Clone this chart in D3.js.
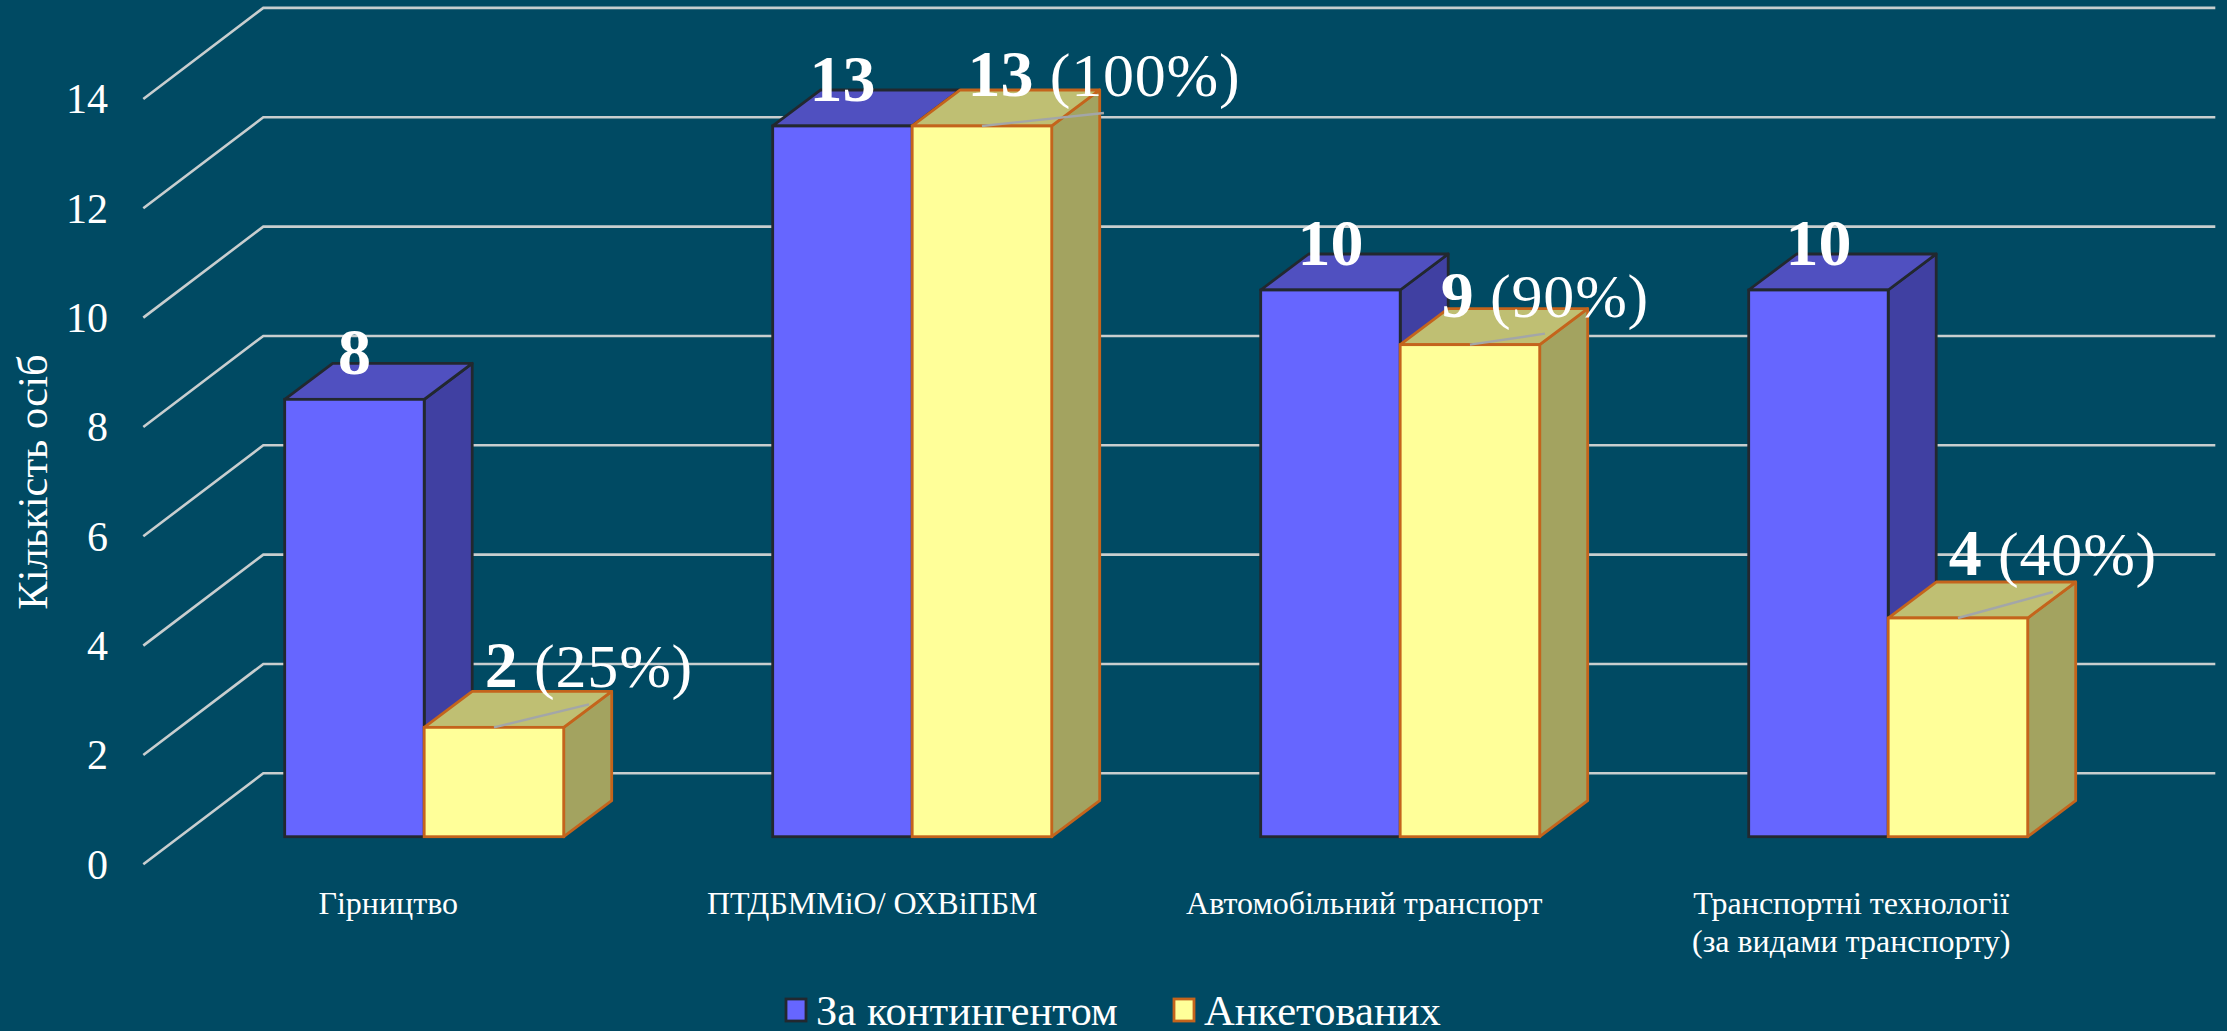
<!DOCTYPE html>
<html><head><meta charset="utf-8">
<script src="https://cdn.jsdelivr.net/npm/d3@7"></script>
<style>
html,body{margin:0;padding:0;background:#004a63;overflow:hidden}
svg{display:block}
text{font-family:"Liberation Serif","Times New Roman",serif;fill:#fff}
</style></head><body>
<svg id="c" width="2227" height="1031"></svg>
<script>
const categories = [["Гірництво"],["ПТДБММіО/ ОХВіПБМ"],["Автомобільний транспорт"],["Транспортні технології","(за видами транспорту)"]];
const contingent = [8,13,10,10];
const surveyed = [2,13,9,4];
const percents = ["25%","100%","90%","40%"];
const seriesNames = ["За контингентом","Анкетованих"];
const yTicks = [0,2,4,6,8,10,12,14];
const axisTitle = "Кількість осіб";
// label anchor offsets from bar's top-front centre (leader line end)
const leaderDx = [95,122,75,95];
const leaderDy = [-23,-13,-11,-26];
const categoryNudge = [0,-4,0,-1];

const W=2227,H=1031;
const svg=d3.select("#c");
svg.append("rect").attr("width",W).attr("height",H).attr("fill","#004a63");

const bar0=836.7, unit=54.67;
const y=d3.scaleLinear().domain([0,14]).range([bar0,bar0-14*unit]);
const x=d3.scaleBand().domain(d3.range(4)).range([179.3,2131.3]).paddingInner(0).paddingOuter(0);
const inner=d3.scaleBand().domain([0,1]).range([105.4,105.4+279]);
const barDepth=[48,-36];
const wallFront=[-36,27.6], wallBack=[84,-63.4]; // relative to the bar plane

const grid="#c8cecf";
const g=svg.append("g");
yTicks.forEach(t=>{
  const yy=y(t), x0=x.range()[0];
  g.append("polyline").attr("fill","none").attr("stroke",grid).attr("stroke-width",2.6)
   .attr("points",[[x0+wallFront[0],yy+wallFront[1]],[x0+wallBack[0],yy+wallBack[1]],[x.range()[1]+wallBack[0],yy+wallBack[1]]].join(" "));
  g.append("text").attr("x",108).attr("y",yy+wallFront[1]+14.5).attr("text-anchor","end").attr("font-size",42).text(t);
});

svg.append("text").attr("transform","translate(47,482) rotate(-90)").attr("text-anchor","middle").attr("font-size",42.5).text(axisTitle);

const styles=[
 {front:"#6666ff",top:"#5050c0",side:"#4040a2",stroke:"#22282f"},
 {front:"#ffff99",top:"#bfbf73",side:"#a3a360",stroke:"#c4641c"}
];
const sw=2.8;
function box(gg,x0,w,v,s){
  const yt=y(v), yb=y(0), [dx,dy]=barDepth;
  gg.append("polygon").attr("points",[[x0+w,yt],[x0+w+dx,yt+dy],[x0+w+dx,yb+dy],[x0+w,yb]].join(" "))
    .attr("fill",s.side).attr("stroke",s.stroke).attr("stroke-width",sw).attr("stroke-linejoin","round");
  gg.append("polygon").attr("points",[[x0,yt],[x0+dx,yt+dy],[x0+w+dx,yt+dy],[x0+w,yt]].join(" "))
    .attr("fill",s.top).attr("stroke",s.stroke).attr("stroke-width",sw).attr("stroke-linejoin","round");
  gg.append("rect").attr("x",x0).attr("y",yt).attr("width",w).attr("height",yb-yt)
    .attr("fill",s.front).attr("stroke",s.stroke).attr("stroke-width",sw);
}
const bw=inner.bandwidth();
categories.forEach((c,i)=>{
  const gg=svg.append("g");
  box(gg,x(i)+inner(0),bw,contingent[i],styles[0]);
  box(gg,x(i)+inner(1),bw,surveyed[i],styles[1]);
});
// leader lines and value labels
categories.forEach((c,i)=>{
  const cb=x(i)+inner(0)+bw/2, cy=x(i)+inner(1)+bw/2, ty=y(surveyed[i]);
  svg.append("line").attr("x1",cy).attr("y1",ty).attr("x2",cy+leaderDx[i]).attr("y2",ty+leaderDy[i])
     .attr("stroke","#a3a6a8").attr("stroke-width",2.4);
  svg.append("text").attr("x",cb).attr("y",y(contingent[i])-25).attr("text-anchor","middle")
     .attr("font-size",66).attr("font-weight","bold").text(contingent[i]);
  const t=svg.append("text").attr("x",cy+leaderDx[i]).attr("y",ty+leaderDy[i]-17).attr("text-anchor","middle");
  t.append("tspan").attr("font-size",66).attr("font-weight","bold").text(surveyed[i]);
  t.append("tspan").attr("font-size",62).attr("letter-spacing",0.8).text(" ("+percents[i]+")");
  // category labels
  c.forEach((line,k)=>{
    svg.append("text").attr("x",x(i)+inner(0)+bw-36+categoryNudge[i]).attr("y",914+k*37.5).attr("text-anchor","middle").attr("font-size",32).text(line);
  });
});
// legend
const lg=svg.append("g");
const lx=[786,1174], tx=[816,1204];
seriesNames.forEach((n,i)=>{
  lg.append("rect").attr("x",lx[i]).attr("y",999).attr("width",20).attr("height",22)
    .attr("fill",styles[i].front).attr("stroke",styles[i].stroke).attr("stroke-width",2.8);
  lg.append("text").attr("x",tx[i]).attr("y",1025).attr("font-size",42.6).text(n);
});
</script>
</body></html>
